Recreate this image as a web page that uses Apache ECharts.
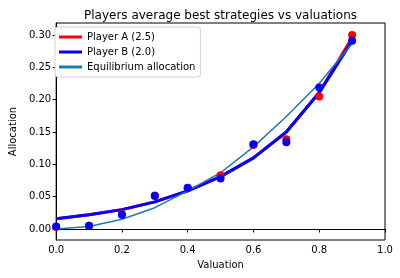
<!DOCTYPE html>
<html><head><meta charset="utf-8">
<script src="https://cdn.jsdelivr.net/npm/echarts@6/dist/echarts.min.js"></script>
<style>html,body{margin:0;padding:0;background:#fff}#c{width:400px;height:278px}</style>
</head><body><div id="c"></div>
<script>
const valuations = [0, 0.1, 0.2, 0.3, 0.4, 0.5, 0.6, 0.7, 0.8, 0.9];
const pointsA = [0.003, 0.005, 0.023, 0.052, 0.063, 0.083, 0.130, 0.139, 0.205, 0.300];
const pointsB = [0.004, 0.005, 0.022, 0.051, 0.064, 0.078, 0.131, 0.134, 0.219, 0.291];
const fitA = [0.016, 0.022, 0.030, 0.042, 0.059, 0.081, 0.110, 0.150, 0.211, 0.296];
const fitB = [0.016, 0.022, 0.030, 0.042, 0.059, 0.081, 0.110, 0.150, 0.211, 0.291];
const equilibrium = [0.000, 0.004, 0.015, 0.033, 0.059, 0.087, 0.127, 0.174, 0.225, 0.287];
const xTicks = [0, 0.2, 0.4, 0.6, 0.8, 1.0];
const yTicks = [0, 0.05, 0.10, 0.15, 0.20, 0.25, 0.30];

const pair = (ys) => valuations.map((v, i) => [v, ys[i]]);
const font = 'DejaVu Sans';
const chart = echarts.init(document.getElementById('c'), null, {renderer: 'canvas'});
chart.setOption({
  animation: false,
  backgroundColor: '#fff',
  title: {text: 'Players average best strategies vs valuations', left: 79, top: 5,
    textStyle: {fontFamily: font, fontSize: 12, fontWeight: 'normal', color: '#000'}},
  grid: {left: 50, right: 15, top: 23, bottom: 38, show: true, borderColor: '#000', borderWidth: 1, backgroundColor: 'transparent'},
  legend: {
    left: 55, top: 27, orient: 'vertical', itemWidth: 23, itemHeight: 3, itemGap: 5,
    backgroundColor: '#fff', borderColor: '#d0d0d0', borderWidth: 1, borderRadius: 3,
    padding: [5, 5, 5, 4],
    textStyle: {fontFamily: font, fontSize: 10, color: '#000'},
    data: [
      {name: 'Player A (2.5)', icon: 'rect'},
      {name: 'Player B (2.0)', icon: 'rect'},
      {name: 'Equilibrium allocation', icon: 'rect'}
    ]
  },
  xAxis: {type: 'value', min: 0, max: 1, interval: 0.2,
    name: 'Valuation', nameLocation: 'middle', nameGap: 20,
    nameTextStyle: {fontFamily: font, fontSize: 10, color: '#000'},
    axisLine: {show: true, lineStyle: {color: '#000'}},
    axisTick: {show: true, length: 3.5, lineStyle: {color: '#000'}},
    axisLabel: {fontFamily: font, fontSize: 10, color: '#000', margin: 5, formatter: v => v.toFixed(1)},
    splitLine: {show: false}},
  yAxis: {type: 'value', min: -0.017, max: 0.3186, splitNumber: 7,
    name: 'Allocation', nameLocation: 'middle', nameGap: 34,
    nameTextStyle: {fontFamily: font, fontSize: 10, color: '#000'},
    axisLine: {show: true, lineStyle: {color: '#000'}},
    axisTick: {show: true, length: 3.5, lineStyle: {color: '#000'}},
    axisLabel: {fontFamily: font, fontSize: 10, color: '#000', margin: 5, showMinLabel: false, showMaxLabel: false,
      formatter: v => yTicks.some(t => Math.abs(t - v) < 1e-6) ? v.toFixed(2) : ''},
    splitLine: {show: false}},
  series: [
    {name: 'Player A (2.5)', type: 'line', data: pair(fitA), showSymbol: false, symbol: 'none',
      lineStyle: {color: '#ff0000', width: 3}, itemStyle: {color: '#ff0000'}, z: 2},
    {name: 'Player B (2.0)', type: 'line', data: pair(fitB), showSymbol: false, symbol: 'none',
      lineStyle: {color: '#0000ff', width: 3}, itemStyle: {color: '#0000ff'}, z: 3},
    {name: 'Equilibrium allocation', type: 'line', data: pair(equilibrium), showSymbol: false, symbol: 'none',
      lineStyle: {color: '#1f77b4', width: 1.5}, itemStyle: {color: '#1f77b4'}, z: 4},
    {name: 'A points', type: 'scatter', data: pair(pointsA), symbolSize: 8,
      itemStyle: {color: '#ff0000', opacity: 1}, z: 5},
    {name: 'B points', type: 'scatter', data: pair(pointsB), symbolSize: 8,
      itemStyle: {color: '#0000ff', opacity: 1}, z: 6}
  ]
});
</script></body></html>
